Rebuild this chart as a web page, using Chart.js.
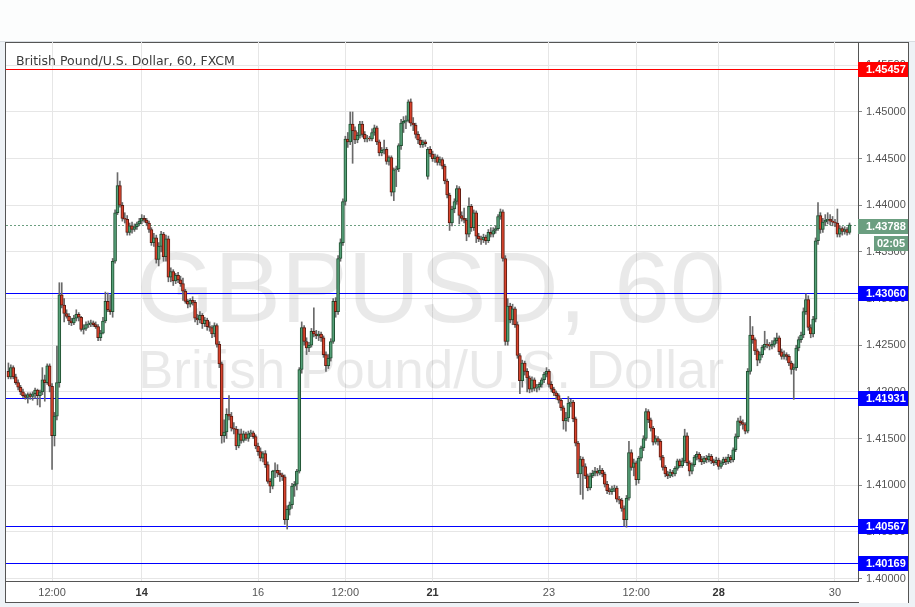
<!DOCTYPE html>
<html><head><meta charset="utf-8">
<script src="https://cdn.jsdelivr.net/npm/chart.js@4.4.1/dist/chart.umd.min.js"></script>
<style>
html,body{margin:0;padding:0;background:#eef2f6;}
#wrap{width:915px;height:607px;}
canvas{display:block;}
</style></head><body>
<div id="wrap"><canvas id="c" width="915" height="607" style="width:915px;height:607px"></canvas></div>
<script>
// ---- data (hourly candles, GBP/USD) ----
const opens = [
1.4222,1.4216,1.4226,1.4216,1.4210,1.4205,1.4200,1.4196,1.4194,1.4197,
1.4195,1.4198,1.4202,1.4196,1.4200,1.4213,1.4210,1.4228,1.4206,1.4153,
1.4174,1.4210,1.4304,1.4293,1.4284,1.4281,1.4276,1.4274,1.4279,1.4283,
1.4280,1.4267,1.4268,1.4272,1.4273,1.4274,1.4272,1.4270,1.4258,1.4263,
1.4276,1.4297,1.4288,1.4286,1.4340,1.4392,1.4421,1.4400,1.4386,1.4385,
1.4371,1.4378,1.4374,1.4377,1.4380,1.4383,1.4386,1.4384,1.4381,1.4374,
1.4360,1.4365,1.4342,1.4356,1.4369,1.4345,1.4364,1.4323,1.4329,1.4319,
1.4325,1.4320,1.4316,1.4308,1.4297,1.4294,1.4298,1.4296,1.4279,1.4277,
1.4282,1.4273,1.4277,1.4270,1.4269,1.4262,1.4271,1.4251,1.4230,1.4153,
1.4157,1.4176,1.4174,1.4161,1.4160,1.4142,1.4155,1.4148,1.4155,1.4150,
1.4155,1.4156,1.4152,1.4142,1.4136,1.4129,1.4134,1.4122,1.4104,1.4099,
1.4115,1.4116,1.4113,1.4111,1.4109,1.4063,1.4074,1.4079,1.4099,1.4101,
1.4115,1.4224,1.4269,1.4254,1.4247,1.4250,1.4265,1.4262,1.4260,1.4262,
1.4258,1.4240,1.4228,1.4236,1.4254,1.4297,1.4286,1.4343,1.4360,1.4404,
1.4471,1.4468,1.4487,1.4480,1.4470,1.4475,1.4487,1.4476,1.4471,1.4472,
1.4471,1.4478,1.4483,1.4468,1.4456,1.4459,1.4460,1.4447,1.4451,1.4414,
1.4438,1.4439,1.4464,1.4488,1.4490,1.4491,1.4511,1.4488,1.4486,1.4476,
1.4470,1.4465,1.4468,1.4431,1.4460,1.4455,1.4450,1.4452,1.4446,1.4449,
1.4442,1.4426,1.4411,1.4381,1.4396,1.4404,1.4418,1.4389,1.4386,1.4384,
1.4369,1.4399,1.4376,1.4392,1.4367,1.4364,1.4363,1.4366,1.4362,1.4371,
1.4369,1.4373,1.4375,1.4388,1.4393,1.4343,1.4254,1.4292,1.4277,1.4289,
1.4272,1.4239,1.4212,1.4231,1.4222,1.4215,1.4203,1.4213,1.4204,1.4205,
1.4208,1.4213,1.4219,1.4222,1.4208,1.4203,1.4199,1.4196,1.4191,1.4183,
1.4169,1.4172,1.4188,1.4189,1.4171,1.4145,1.4112,1.4128,1.4120,1.4110,
1.4097,1.4110,1.4113,1.4115,1.4113,1.4116,1.4112,1.4101,1.4094,1.4093,
1.4096,1.4097,1.4085,1.4084,1.4075,1.4063,1.4086,1.4135,1.4119,1.4124,
1.4106,1.4129,1.4140,1.4150,1.4179,1.4170,1.4161,1.4146,1.4150,1.4147,
1.4130,1.4119,1.4112,1.4110,1.4114,1.4112,1.4118,1.4126,1.4121,1.4126,
1.4153,1.4124,1.4115,1.4122,1.4130,1.4133,1.4128,1.4125,1.4129,1.4127,
1.4131,1.4126,1.4124,1.4127,1.4120,1.4124,1.4128,1.4125,1.4130,1.4127,
1.4138,1.4152,1.4169,1.4167,1.4165,1.4158,1.4222,1.4261,1.4256,1.4244,
1.4234,1.4240,1.4248,1.4251,1.4250,1.4249,1.4251,1.4255,1.4258,1.4243,
1.4238,1.4240,1.4238,1.4231,1.4224,1.4226,1.4247,1.4256,1.4261,1.4286,
1.4299,1.4269,1.4262,1.4278,1.4362,1.4389,1.4374,1.4382,1.4384,1.4385,
1.4383,1.4382,1.4381,1.4369,1.4375,1.4372,1.4374,1.4371];
const highs = [
1.4231,1.4229,1.4228,1.4219,1.4213,1.4207,1.4203,1.4198,1.4199,1.4199,
1.4200,1.4204,1.4203,1.4202,1.4226,1.4218,1.4230,1.4230,1.4209,1.4178,
1.4249,1.4317,1.4317,1.4300,1.4288,1.4284,1.4279,1.4282,1.4288,1.4285,
1.4281,1.4272,1.4275,1.4276,1.4277,1.4276,1.4275,1.4272,1.4266,1.4280,
1.4307,1.4306,1.4304,1.4343,1.4395,1.4435,1.4426,1.4403,1.4392,1.4389,
1.4381,1.4382,1.4380,1.4382,1.4386,1.4390,1.4389,1.4386,1.4383,1.4376,
1.4370,1.4368,1.4360,1.4372,1.4371,1.4368,1.4367,1.4333,1.4331,1.4327,
1.4328,1.4324,1.4322,1.4310,1.4299,1.4300,1.4302,1.4298,1.4283,1.4286,
1.4284,1.4280,1.4279,1.4275,1.4271,1.4274,1.4273,1.4254,1.4232,1.4170,
1.4182,1.4196,1.4178,1.4167,1.4163,1.4160,1.4160,1.4158,1.4157,1.4158,
1.4159,1.4158,1.4154,1.4145,1.4140,1.4136,1.4137,1.4125,1.4107,1.4116,
1.4124,1.4122,1.4116,1.4113,1.4111,1.4078,1.4082,1.4102,1.4104,1.4117,
1.4226,1.4275,1.4271,1.4258,1.4253,1.4268,1.4290,1.4266,1.4265,1.4264,
1.4260,1.4243,1.4240,1.4257,1.4300,1.4301,1.4346,1.4364,1.4407,1.4474,
1.4478,1.4500,1.4500,1.4484,1.4478,1.4490,1.4490,1.4479,1.4475,1.4474,
1.4482,1.4486,1.4485,1.4470,1.4462,1.4470,1.4462,1.4453,1.4453,1.4440,
1.4442,1.4466,1.4492,1.4495,1.4496,1.4513,1.4514,1.4494,1.4488,1.4479,
1.4473,1.4470,1.4470,1.4462,1.4463,1.4458,1.4455,1.4454,1.4452,1.4451,
1.4444,1.4428,1.4413,1.4399,1.4407,1.4421,1.4420,1.4393,1.4397,1.4386,
1.4408,1.4401,1.4395,1.4394,1.4370,1.4367,1.4369,1.4368,1.4374,1.4376,
1.4376,1.4378,1.4390,1.4396,1.4395,1.4346,1.4300,1.4295,1.4294,1.4291,
1.4275,1.4241,1.4234,1.4233,1.4225,1.4217,1.4216,1.4215,1.4208,1.4210,
1.4215,1.4221,1.4226,1.4224,1.4211,1.4205,1.4201,1.4198,1.4193,1.4185,
1.4178,1.4195,1.4192,1.4191,1.4173,1.4147,1.4131,1.4130,1.4123,1.4112,
1.4113,1.4116,1.4119,1.4118,1.4121,1.4118,1.4114,1.4104,1.4097,1.4099,
1.4100,1.4099,1.4088,1.4086,1.4078,1.4089,1.4147,1.4138,1.4128,1.4126,
1.4131,1.4142,1.4153,1.4182,1.4181,1.4172,1.4163,1.4153,1.4152,1.4149,
1.4132,1.4121,1.4115,1.4117,1.4116,1.4120,1.4128,1.4128,1.4129,1.4160,
1.4156,1.4126,1.4124,1.4132,1.4136,1.4135,1.4131,1.4131,1.4132,1.4134,
1.4133,1.4128,1.4130,1.4129,1.4126,1.4130,1.4130,1.4133,1.4132,1.4140,
1.4155,1.4172,1.4174,1.4170,1.4167,1.4225,1.4281,1.4270,1.4258,1.4246,
1.4243,1.4250,1.4265,1.4256,1.4253,1.4255,1.4258,1.4263,1.4260,1.4246,
1.4244,1.4242,1.4240,1.4233,1.4230,1.4250,1.4259,1.4264,1.4290,1.4305,
1.4303,1.4272,1.4281,1.4365,1.4403,1.4392,1.4386,1.4390,1.4392,1.4390,
1.4388,1.4385,1.4396,1.4378,1.4377,1.4377,1.4376,1.4381];
const lows = [
1.4214,1.4214,1.4214,1.4208,1.4202,1.4197,1.4194,1.4192,1.4188,1.4192,
1.4191,1.4193,1.4186,1.4184,1.4197,1.4190,1.4208,1.4200,1.4117,1.4142,
1.4170,1.4205,1.4290,1.4275,1.4279,1.4272,1.4271,1.4272,1.4276,1.4276,
1.4265,1.4262,1.4266,1.4269,1.4270,1.4270,1.4268,1.4255,1.4255,1.4262,
1.4274,1.4286,1.4283,1.4280,1.4338,1.4390,1.4398,1.4383,1.4381,1.4368,
1.4368,1.4370,1.4372,1.4374,1.4378,1.4380,1.4382,1.4378,1.4371,1.4357,
1.4356,1.4338,1.4335,1.4350,1.4340,1.4340,1.4318,1.4318,1.4314,1.4316,
1.4317,1.4313,1.4298,1.4295,1.4290,1.4291,1.4293,1.4275,1.4272,1.4274,
1.4268,1.4270,1.4266,1.4265,1.4258,1.4259,1.4248,1.4226,1.4145,1.4146,
1.4150,1.4170,1.4158,1.4155,1.4138,1.4140,1.4145,1.4146,1.4148,1.4147,
1.4152,1.4150,1.4139,1.4132,1.4126,1.4125,1.4119,1.4102,1.4092,1.4096,
1.4108,1.4109,1.4104,1.4105,1.4058,1.4053,1.4068,1.4075,1.4088,1.4095,
1.4113,1.4220,1.4250,1.4240,1.4243,1.4248,1.4259,1.4257,1.4255,1.4254,
1.4237,1.4222,1.4225,1.4233,1.4252,1.4280,1.4283,1.4340,1.4357,1.4400,
1.4462,1.4465,1.4445,1.4466,1.4467,1.4472,1.4473,1.4468,1.4468,1.4469,
1.4469,1.4475,1.4465,1.4453,1.4453,1.4455,1.4444,1.4443,1.4410,1.4405,
1.4420,1.4436,1.4460,1.4478,1.4482,1.4489,1.4485,1.4480,1.4472,1.4466,
1.4462,1.4462,1.4463,1.4428,1.4452,1.4447,1.4446,1.4443,1.4443,1.4439,
1.4423,1.4408,1.4373,1.4378,1.4392,1.4401,1.4380,1.4383,1.4381,1.4362,
1.4366,1.4372,1.4373,1.4360,1.4361,1.4358,1.4360,1.4358,1.4360,1.4366,
1.4366,1.4370,1.4373,1.4385,1.4340,1.4250,1.4250,1.4274,1.4272,1.4269,
1.4236,1.4198,1.4205,1.4218,1.4200,1.4199,1.4200,1.4201,1.4200,1.4202,
1.4205,1.4210,1.4216,1.4205,1.4200,1.4196,1.4192,1.4188,1.4180,1.4160,
1.4158,1.4168,1.4184,1.4168,1.4142,1.4108,1.4090,1.4085,1.4107,1.4094,
1.4095,1.4108,1.4110,1.4110,1.4111,1.4109,1.4098,1.4091,1.4090,1.4090,
1.4093,1.4082,1.4080,1.4072,1.4056,1.4055,1.4084,1.4116,1.4110,1.4100,
1.4102,1.4126,1.4137,1.4148,1.4167,1.4158,1.4143,1.4144,1.4143,1.4127,
1.4116,1.4109,1.4107,1.4108,1.4109,1.4110,1.4116,1.4119,1.4119,1.4124,
1.4121,1.4110,1.4112,1.4120,1.4127,1.4125,1.4122,1.4123,1.4124,1.4125,
1.4123,1.4121,1.4122,1.4117,1.4118,1.4122,1.4122,1.4123,1.4124,1.4125,
1.4136,1.4150,1.4164,1.4160,1.4155,1.4156,1.4219,1.4252,1.4240,1.4228,
1.4231,1.4237,1.4245,1.4247,1.4245,1.4246,1.4248,1.4252,1.4240,1.4235,
1.4235,1.4234,1.4228,1.4219,1.4192,1.4223,1.4244,1.4253,1.4258,1.4283,
1.4266,1.4258,1.4259,1.4275,1.4358,1.4370,1.4371,1.4378,1.4380,1.4379,
1.4378,1.4377,1.4366,1.4366,1.4368,1.4369,1.4368,1.4369];
const closes = [
1.4216,1.4226,1.4216,1.4210,1.4205,1.4200,1.4196,1.4194,1.4197,1.4195,
1.4198,1.4202,1.4196,1.4200,1.4213,1.4210,1.4228,1.4206,1.4153,1.4174,
1.4210,1.4304,1.4293,1.4284,1.4281,1.4276,1.4274,1.4279,1.4283,1.4280,
1.4267,1.4268,1.4272,1.4273,1.4274,1.4272,1.4270,1.4258,1.4263,1.4276,
1.4297,1.4288,1.4286,1.4340,1.4392,1.4421,1.4400,1.4386,1.4385,1.4371,
1.4378,1.4374,1.4377,1.4380,1.4383,1.4386,1.4384,1.4381,1.4374,1.4360,
1.4365,1.4342,1.4356,1.4369,1.4345,1.4364,1.4323,1.4329,1.4319,1.4325,
1.4320,1.4316,1.4308,1.4297,1.4294,1.4298,1.4296,1.4279,1.4277,1.4282,
1.4273,1.4277,1.4270,1.4269,1.4262,1.4271,1.4251,1.4230,1.4153,1.4157,
1.4176,1.4174,1.4161,1.4160,1.4142,1.4155,1.4148,1.4155,1.4150,1.4155,
1.4156,1.4152,1.4142,1.4136,1.4129,1.4134,1.4122,1.4104,1.4099,1.4115,
1.4116,1.4113,1.4111,1.4109,1.4063,1.4074,1.4079,1.4099,1.4101,1.4115,
1.4224,1.4269,1.4254,1.4247,1.4250,1.4265,1.4262,1.4260,1.4262,1.4258,
1.4240,1.4228,1.4236,1.4254,1.4297,1.4286,1.4343,1.4360,1.4404,1.4471,
1.4468,1.4487,1.4480,1.4470,1.4475,1.4487,1.4476,1.4471,1.4472,1.4471,
1.4478,1.4483,1.4468,1.4456,1.4459,1.4460,1.4447,1.4451,1.4414,1.4438,
1.4439,1.4464,1.4488,1.4490,1.4491,1.4511,1.4488,1.4486,1.4476,1.4470,
1.4465,1.4468,1.4466,1.4460,1.4455,1.4450,1.4452,1.4446,1.4449,1.4442,
1.4426,1.4411,1.4381,1.4396,1.4404,1.4418,1.4389,1.4386,1.4384,1.4369,
1.4399,1.4376,1.4392,1.4367,1.4364,1.4363,1.4366,1.4362,1.4371,1.4369,
1.4373,1.4375,1.4388,1.4393,1.4343,1.4254,1.4292,1.4277,1.4289,1.4272,
1.4239,1.4212,1.4231,1.4222,1.4215,1.4203,1.4213,1.4204,1.4205,1.4208,
1.4213,1.4219,1.4222,1.4208,1.4203,1.4199,1.4196,1.4191,1.4183,1.4169,
1.4172,1.4188,1.4189,1.4171,1.4145,1.4112,1.4128,1.4120,1.4110,1.4097,
1.4110,1.4113,1.4115,1.4113,1.4116,1.4112,1.4101,1.4094,1.4093,1.4096,
1.4097,1.4085,1.4084,1.4075,1.4063,1.4086,1.4135,1.4119,1.4124,1.4106,
1.4129,1.4140,1.4150,1.4179,1.4170,1.4161,1.4146,1.4150,1.4147,1.4130,
1.4119,1.4112,1.4110,1.4114,1.4112,1.4118,1.4126,1.4121,1.4126,1.4153,
1.4124,1.4115,1.4122,1.4130,1.4133,1.4128,1.4125,1.4129,1.4127,1.4131,
1.4126,1.4124,1.4127,1.4120,1.4124,1.4128,1.4125,1.4130,1.4127,1.4138,
1.4152,1.4169,1.4167,1.4165,1.4158,1.4222,1.4261,1.4256,1.4244,1.4234,
1.4240,1.4248,1.4251,1.4250,1.4249,1.4251,1.4255,1.4258,1.4243,1.4238,
1.4240,1.4238,1.4231,1.4224,1.4226,1.4247,1.4256,1.4261,1.4286,1.4299,
1.4269,1.4262,1.4278,1.4362,1.4389,1.4374,1.4382,1.4384,1.4385,1.4383,
1.4382,1.4381,1.4369,1.4375,1.4372,1.4374,1.4371,1.4379];

const tickIndex  = [18, 55, 103, 139, 175, 223, 259, 293, 341];
const tickLabels = ['12:00','14','16','12:00','21','23','12:00','28','30'];
const boldLabels = ['14','21','28'];
const priceTicks = [1.400,1.405,1.410,1.415,1.420,1.425,1.430,1.435,1.440,1.445,1.450,1.455];
const levelValues = [1.45457, 1.43060, 1.41931, 1.40567, 1.40169];
const levelColors = ['#ff0000', '#0000ff', '#0000ff', '#0000ff', '#0000ff'];
const lastPrice = 1.43788;
const countdown = '02:05';
const titleText = 'British Pound/U.S. Dollar, 60, FXCM';
const watermark1 = 'GBPUSD, 60';
const watermark2 = 'British Pound/U.S. Dollar';

// ---- chart ----
const FONT = '"Liberation Sans", Arial, sans-serif';
const UP_FILL = '#55a078', UP_LINE = '#1f4f30';
const DN_FILL = '#d9432d', DN_LINE = '#5a1a10';
const LAST_COLOR = '#6b9e80';

const bodies = closes.map((c, i) => ({x: i, y: [opens[i], c]}));
const wicks = highs.map((h, i) => ({x: i, y: [lows[i], h]}));
const isUp = i => closes[i] >= opens[i];

const decor = {
  id: 'decor',
  beforeDraw(chart) {
    const ctx = chart.ctx;
    ctx.save();
    ctx.fillStyle = '#eef2f6';
    ctx.fillRect(0, 0, 915, 607);
    ctx.fillStyle = '#fcfdfd';
    ctx.fillRect(0, 0, 915, 41);
    ctx.fillStyle = '#ffffff';
    ctx.fillRect(6, 42, 902, 561);
    ctx.strokeStyle = '#d8dde2';
    ctx.lineWidth = 1;
    ctx.beginPath(); ctx.moveTo(0, 41.5); ctx.lineTo(915, 41.5); ctx.stroke();
    ctx.strokeStyle = '#555';
    ctx.strokeRect(5.5, 42.5, 903, 560);
    ctx.restore();
  },
  beforeDatasetsDraw(chart) {
    const {ctx, chartArea: a, scales: {y}} = chart;
    const cx = (a.left + a.right) / 2;
    ctx.save();
    ctx.beginPath(); ctx.rect(a.left, a.top, a.right - a.left, a.bottom - a.top); ctx.clip();
    ctx.fillStyle = 'rgba(0,0,0,0.085)';
    ctx.textAlign = 'center';
    ctx.textBaseline = 'alphabetic';
    ctx.font = '100px ' + FONT;
    ctx.fillText(watermark1, cx - 1, 322);
    ctx.font = '53px ' + FONT;
    ctx.fillText(watermark2, cx - 1, 388);
    ctx.lineWidth = 1;
    levelValues.forEach((v, k) => {
      const py = Math.round(y.getPixelForValue(v)) + 0.5;
      ctx.strokeStyle = levelColors[k];
      ctx.beginPath(); ctx.moveTo(a.left, py); ctx.lineTo(a.right, py); ctx.stroke();
    });
    const ly = Math.round(y.getPixelForValue(lastPrice)) + 0.5;
    ctx.strokeStyle = LAST_COLOR;
    ctx.setLineDash([2, 2]);
    ctx.beginPath(); ctx.moveTo(a.left, ly); ctx.lineTo(a.right, ly); ctx.stroke();
    ctx.setLineDash([]);
    ctx.restore();
    ctx.save();
    ctx.fillStyle = '#3c3c3c';
    ctx.font = '12.5px "DejaVu Sans", sans-serif';
    ctx.textAlign = 'left';
    ctx.textBaseline = 'alphabetic';
    ctx.fillText(titleText, 16, 64.5);
    ctx.restore();
  },
  afterDraw(chart) {
    const {ctx, chartArea: a, scales: {y}} = chart;
    ctx.save();
    ctx.fillStyle = '#ffffff';
    ctx.fillRect(a.right + 1, a.bottom + 1, 49, 21);
    const x0 = a.right, x1 = a.right + 50;
    ctx.font = 'bold 11px ' + FONT;
    ctx.textBaseline = 'middle';
    levelValues.forEach((v, k) => {
      const py = Math.round(y.getPixelForValue(v));
      ctx.fillStyle = levelColors[k];
      ctx.fillRect(x0, py - 7, x1 - x0, 15);
      ctx.fillStyle = '#fff';
      ctx.textAlign = 'left';
      ctx.fillText(v.toFixed(5), x0 + 8, py + 1);
    });
    const ly = Math.round(y.getPixelForValue(lastPrice));
    ctx.fillStyle = LAST_COLOR;
    ctx.fillRect(x0, ly - 6, x1 - x0, 15);
    ctx.fillRect(x0 + 16, ly + 11, x1 - x0 - 16, 15);
    ctx.fillStyle = '#fff';
    ctx.textAlign = 'left';
    ctx.fillText(lastPrice.toFixed(5), x0 + 8, ly + 2);
    ctx.textAlign = 'center';
    ctx.fillText(countdown, x0 + 16 + (x1 - x0 - 16) / 2, ly + 19);
    ctx.restore();
  }
};

new Chart(document.getElementById('c'), {
  type: 'bar',
  data: {
    datasets: [
      {
        data: bodies, grouped: false, order: 1,
        barThickness: 3, borderWidth: 1, borderSkipped: false,
        backgroundColor: ctx => isUp(ctx.dataIndex) ? UP_FILL : DN_FILL,
        borderColor: ctx => isUp(ctx.dataIndex) ? UP_LINE : DN_LINE
      },
      {
        data: wicks, grouped: false, order: 2,
        barThickness: 1, borderWidth: 0,
        backgroundColor: '#6a6a6a'
      }
    ]
  },
  options: {
    responsive: false,
    animation: false,
    devicePixelRatio: 1,
    layout: {padding: {left: 6, top: 42, right: 7, bottom: 5}},
    plugins: {legend: {display: false}, tooltip: {enabled: false}},
    scales: {
      x: {
        type: 'linear', min: -1, max: 350.5, offset: false,
        afterBuildTicks: s => { s.ticks = tickIndex.map(v => ({value: v})); },
        afterFit: s => { s.height = 21; },
        grid: {color: '#e6e6e6', drawTicks: false, offset: false},
        border: {color: '#555', width: 1},
        ticks: {
          padding: 5, autoSkip: false, maxRotation: 0,
          color: c => boldLabels.includes(tickLabels[c.index]) ? '#333' : '#555',
          font: c => ({family: FONT, size: 11, weight: boldLabels.includes(tickLabels[c.index]) ? 'bold' : 'normal'}),
          callback: (v, idx) => tickLabels[idx]
        }
      },
      y: {
        position: 'right', min: 1.39973, max: 1.45750,
        afterBuildTicks: s => { s.ticks = priceTicks.map(v => ({value: v})); },
        afterFit: s => { s.width = 50; },
        grid: {color: '#e6e6e6', tickLength: 4, tickColor: '#888'},
        border: {color: '#555', width: 1},
        ticks: {
          padding: 4, color: '#555',
          font: {family: FONT, size: 11},
          callback: v => Number(v).toFixed(5)
        }
      }
    }
  },
  plugins: [decor]
});
</script>
</body></html>
